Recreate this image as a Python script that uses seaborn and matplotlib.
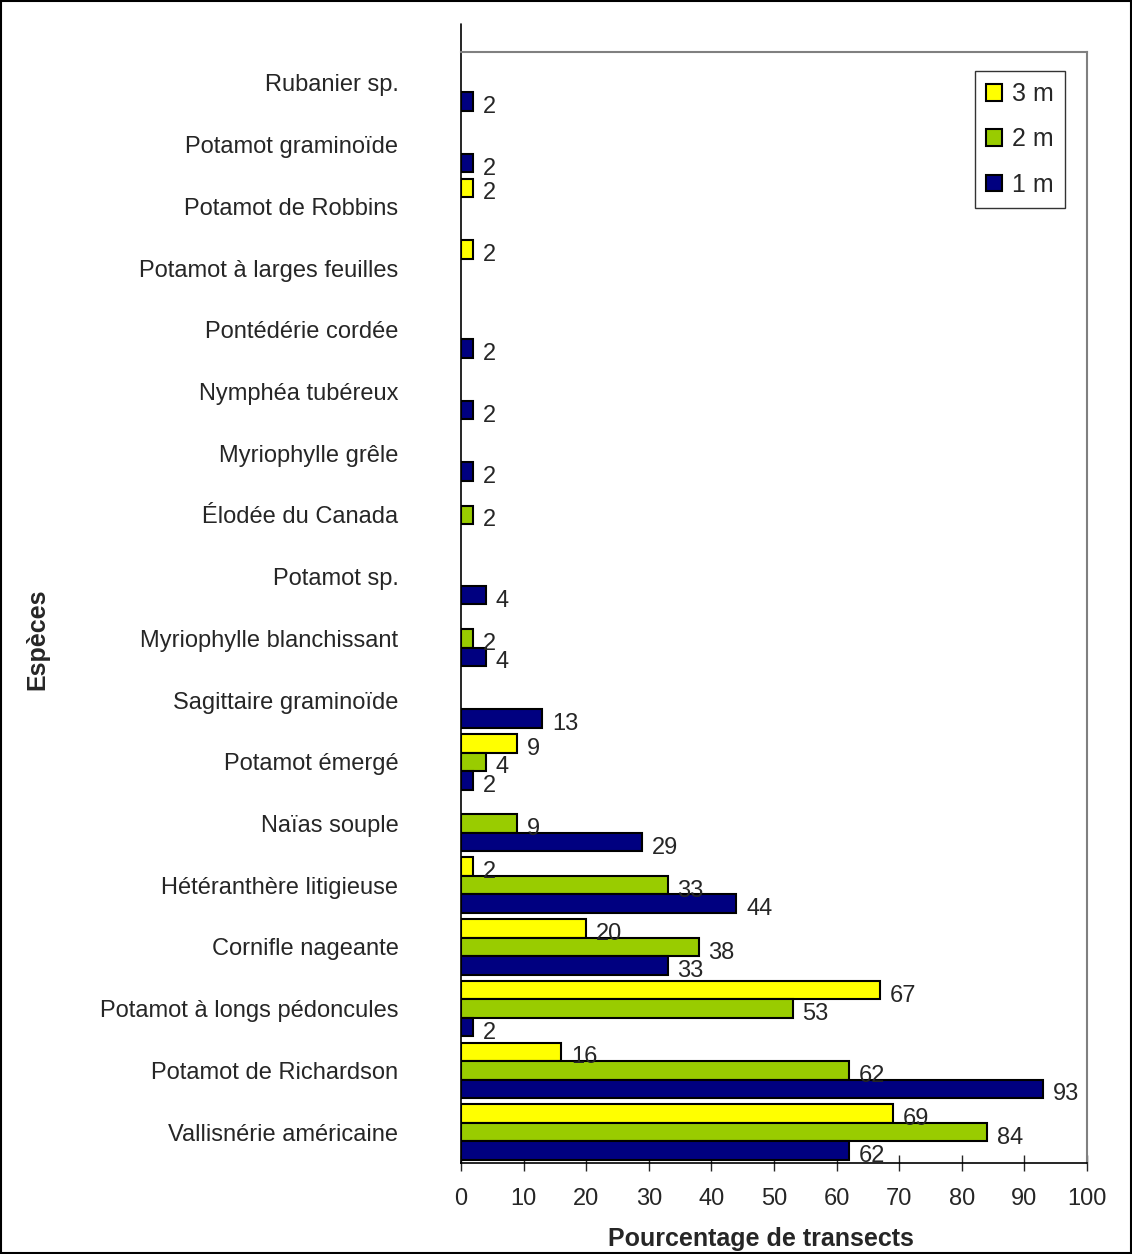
import pandas as pd
import seaborn as sns
import matplotlib.pyplot as plt
from matplotlib.patches import Rectangle

# Species, top to bottom
especes = ['Rubanier sp.', 'Potamot graminoïde', 'Potamot de Robbins',
           'Potamot à larges feuilles', 'Pontédérie cordée', 'Nymphéa tubéreux',
           'Myriophylle grêle', 'Élodée du Canada', 'Potamot sp.',
           'Myriophylle blanchissant', 'Sagittaire graminoïde', 'Potamot émergé',
           'Naïas souple', 'Hétéranthère litigieuse', 'Cornifle nageante',
           'Potamot à longs pédoncules', 'Potamot de Richardson',
           'Vallisnérie américaine']

# Percentage of transects per depth (0 = absent)
p_3m = [0, 0, 2, 2, 0, 0, 0, 0, 0, 0, 0, 9, 0, 2, 20, 67, 16, 69]
p_2m = [0, 0, 0, 0, 0, 0, 0, 2, 0, 2, 0, 4, 9, 33, 38, 53, 62, 84]
p_1m = [2, 2, 0, 0, 2, 2, 2, 0, 4, 4, 13, 2, 29, 44, 33, 2, 93, 62]

profondeurs = ['3 m', '2 m', '1 m']
couleurs = ['#FFFF00', '#99CC00', '#000080']

df = pd.DataFrame({'espece': especes * 3,
                   'profondeur': sum([[p] * len(especes) for p in profondeurs], []),
                   'pct': p_3m + p_2m + p_1m})
df = df[df.pct > 0]

sns.set_style('white')
plt.rcParams['font.family'] = ['Liberation Sans', 'DejaVu Sans']

fig = plt.figure(figsize=(11.32, 12.54), dpi=100)
ax = fig.add_axes([0.4072, 0.0726, 0.553, 0.8859])

sns.barplot(data=df, y='espece', x='pct', hue='profondeur', order=especes,
            hue_order=profondeurs, palette=couleurs, orient='h', width=0.9,
            edgecolor='black', linewidth=1.5, saturation=1, ax=ax)

# value labels at the end of each bar
for bar in ax.patches:
    w = bar.get_width()
    if w > 0:
        ax.annotate(f'{w:.0f}', (w, bar.get_y() + bar.get_height() / 2),
                    xytext=(7, -4), textcoords='offset points',
                    ha='left', va='center', fontsize=17)

ax.set_xlim(0, 100)
ax.set_xticks(range(0, 101, 10))
ax.set_ylim(len(especes) - 0.5, -0.5)
ax.tick_params(axis='x', direction='inout', length=11.5, width=1, labelsize=17,
               pad=12, bottom=True)
ax.tick_params(axis='y', length=0, labelsize=17, pad=45)

ax.set_xlabel('Pourcentage de transects', fontsize=18, fontweight='bold')
ax.xaxis.set_label_coords(0.479, -0.0575)
ax.set_ylabel('Espèces', fontsize=18, fontweight='bold')
ax.yaxis.set_label_coords(-0.657, 0.471)

for s in ['top', 'right']:
    ax.spines[s].set_color('#808080')
    ax.spines[s].set_linewidth(1.5)
for s in ['left', 'bottom']:
    ax.spines[s].set_color('black')
    ax.spines[s].set_linewidth(1.2)
ax.plot([0, 0], [1, 1.025], transform=ax.transAxes, color='black', lw=1.2,
        clip_on=False)

leg = ax.legend(loc='upper right', bbox_to_anchor=(0.965, 0.983), fontsize=18,
                frameon=True, fancybox=False, handlelength=0.65, handleheight=0.65,
                handletextpad=0.4, labelspacing=0.85, borderpad=0.45,
                borderaxespad=0)
leg.get_frame().set_edgecolor('black')
leg.get_frame().set_linewidth(1.0)
leg.set_title(None)

fig.patches.append(Rectangle((0.001, 0.001), 0.998, 0.998, transform=fig.transFigure,
                             fill=False, edgecolor='black', linewidth=1.5))

fig.savefig('out.png', dpi=100, facecolor='white')
